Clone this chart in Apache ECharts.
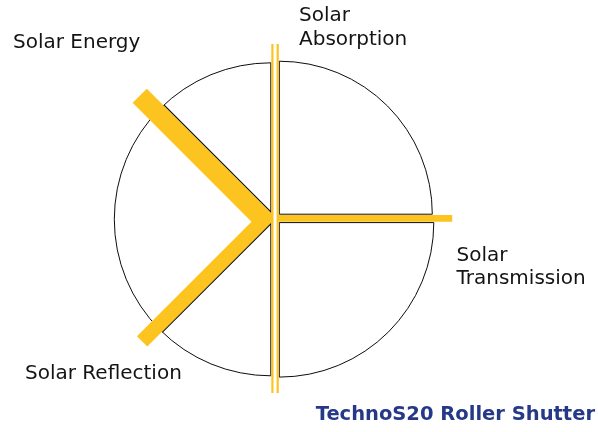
<!DOCTYPE html>
<html>
<head>
<meta charset="utf-8">
<title>TechnoS20 Roller Shutter</title>
<script src="https://cdn.jsdelivr.net/npm/echarts@6/dist/echarts.min.js"></script>
<style>
    html, body { margin: 0; padding: 0; background: #ffffff; }
    #chart { width: 598px; height: 432px; }
</style>
</head>
<body>
<div id="chart"></div>
<script>
// energy flows through the shutter, incoming energy = 100
const beamNames = ["Solar Energy", "Solar Reflection", "Solar Transmission", "Solar Absorption"];
const beamValues = [100, 73, 33, 11];
const beamAngles = [225, 135, 0, 90];     // screen degrees, y pointing down
const beamLengths = [175.4, 172, 174.5, 349];
const labelLines = [["Solar Energy"], ["Solar Reflection"], ["Solar", "Transmission"], ["Solar", "Absorption"]];
const captionText = "TechnoS20 Roller Shutter";

// layout (1 data unit = 1 px)
const pxPerPercent = 0.2;
const junction = [263.75, 219.75];
const transStart = [277.7, 218.4];
const absorbLinesX = [272.4, 277.7];
const absorbTop = 44;
const tipX = 272.4;
const shutterPieces = [
    { c: [270.8, 219.3], r: 156.5, a0: 90, a1: 270 },
    { c: [279.3, 214.2], r: 153, a0: -90, a1: 0 },
    { c: [279.3, 222.6], r: 154.5, a0: 0, a1: 90 }
];
const beamColor = "#fdc31e";
const edgeColor = "#0d0d0d";

function dir(deg) {
    const a = deg * Math.PI / 180;
    return [Math.cos(a), Math.sin(a)];
}
function add(p, d, t) {
    return [p[0] + d[0] * t, p[1] + d[1] * t];
}
// where a line meets x = const
function atX(p, d, x) {
    return add(p, d, (x - p[0]) / d[0]);
}
function intersect(p1, d1, p2, d2) {
    const den = d1[0] * d2[1] - d1[1] * d2[0];
    const t = ((p2[0] - p1[0]) * d2[1] - (p2[1] - p1[1]) * d2[0]) / den;
    return add(p1, d1, t);
}
function hitCircle(p, d, c, r) {
    const fx = p[0] - c[0], fy = p[1] - c[1];
    const b = fx * d[0] + fy * d[1];
    const cc = fx * fx + fy * fy - r * r;
    return add(p, d, -b + Math.sqrt(b * b - cc));
}

const dE = dir(beamAngles[0]), dR = dir(beamAngles[1]);
const nE = [-dE[1], dE[0]];      // outer side of the incoming beam
const nR = [dR[1], -dR[0]];      // outer side of the reflected beam
const hwE = beamValues[0] * pxPerPercent / 2;
const hwR = beamValues[1] * pxPerPercent / 2;

function chevron() {
    const capE = add(junction, dE, beamLengths[0]);
    const capR = add(junction, dR, beamLengths[1]);
    const outE = add(junction, nE, hwE), inE = add(junction, nE, -hwE);
    const outR = add(junction, nR, hwR), inR = add(junction, nR, -hwR);
    return [
        add(capE, nE, hwE),
        atX(outE, dE, tipX),
        atX(outR, dR, tipX),
        add(capR, nR, hwR),
        add(capR, nR, -hwR),
        intersect(inE, dE, inR, dR),
        add(capE, nE, -hwE)
    ];
}

function edgeLine(i) {
    const d = i === 0 ? dE : dR;
    const n = i === 0 ? nE : nR;
    const hw = (i === 0 ? hwE : hwR) + 0.5;
    const piece = shutterPieces[0];
    const start = atX(add(junction, n, hw), d, piece.c[0]);
    return [start, hitCircle(start, d, piece.c, piece.r)];
}

const chart = echarts.init(document.getElementById("chart"));

const textStyle = { fontFamily: "DejaVu Sans", fontSize: 20, fill: "#141414", verticalAlign: "middle" };
function label(text, x, y) {
    return { type: "text", x: x, y: y, style: Object.assign({ text: text }, textStyle) };
}

const option = {
    animation: false,
    backgroundColor: "#ffffff",
    grid: { left: 0, right: 0, top: 0, bottom: 0 },
    xAxis: { type: "value", min: 0, max: 598, show: false },
    yAxis: { type: "value", min: 0, max: 432, inverse: true, show: false },
    graphic: [
        label(labelLines[0][0], 13, 43),
        label(labelLines[1][0], 25, 374),
        label(labelLines[2][0], 456.5, 256),
        label(labelLines[2][1], 456.5, 279),
        label(labelLines[3][0], 299, 16),
        label(labelLines[3][1], 299, 40),
        {
            type: "text", x: 595, y: 415,
            style: {
                text: captionText, fontFamily: "DejaVu Sans", fontSize: 19.5, fontWeight: "bold",
                fill: "#263888", textAlign: "right", verticalAlign: "middle"
            }
        }
    ],
    series: [
        {
            name: "Shutter",
            type: "custom",
            silent: true,
            data: shutterPieces.map(p => p.c),
            renderItem: function (params, api) {
                const p = shutterPieces[params.dataIndex];
                const c = api.coord(p.c);
                const r = api.size([p.r, 0])[0];
                return {
                    type: "sector",
                    shape: {
                        cx: c[0], cy: c[1], r: r, r0: 0,
                        startAngle: p.a0 * Math.PI / 180,
                        endAngle: p.a1 * Math.PI / 180,
                        clockwise: true
                    },
                    style: { fill: "#ffffff", stroke: edgeColor, lineWidth: 1 }
                };
            }
        },
        {
            name: "Edges",
            type: "custom",
            silent: true,
            data: [junction, junction],
            renderItem: function (params, api) {
                const seg = edgeLine(params.dataIndex);
                const a = api.coord(seg[0]), b = api.coord(seg[1]);
                return {
                    type: "line",
                    shape: { x1: a[0], y1: a[1], x2: b[0], y2: b[1] },
                    style: { stroke: edgeColor, lineWidth: 1.3 }
                };
            }
        },
        {
            name: "Beams",
            type: "custom",
            silent: true,
            data: beamNames.map(() => junction),
            renderItem: function (params, api) {
                const i = params.dataIndex;
                if (i === 0) {
                    return {
                        type: "polygon",
                        shape: { points: chevron().map(p => api.coord(p)) },
                        style: { fill: beamColor }
                    };
                }
                if (i === 2) {
                    const a = api.coord(transStart);
                    const b = api.coord(add(transStart, dir(beamAngles[2]), beamLengths[2]));
                    return {
                        type: "line",
                        shape: { x1: a[0], y1: a[1], x2: b[0], y2: b[1] },
                        style: { stroke: beamColor, lineWidth: beamValues[2] * pxPerPercent, lineCap: "butt" }
                    };
                }
                if (i === 3) {
                    return {
                        type: "group",
                        children: absorbLinesX.map(x => {
                            const a = api.coord([x, absorbTop]);
                            const b = api.coord(add([x, absorbTop], dir(beamAngles[3]), beamLengths[3]));
                            return {
                                type: "line",
                                shape: { x1: a[0], y1: a[1], x2: b[0], y2: b[1] },
                                style: { stroke: beamColor, lineWidth: beamValues[3] * pxPerPercent, lineCap: "butt" }
                            };
                        })
                    };
                }
                return null;
            }
        }
    ]
};

chart.setOption(option);
</script>
</body>
</html>
